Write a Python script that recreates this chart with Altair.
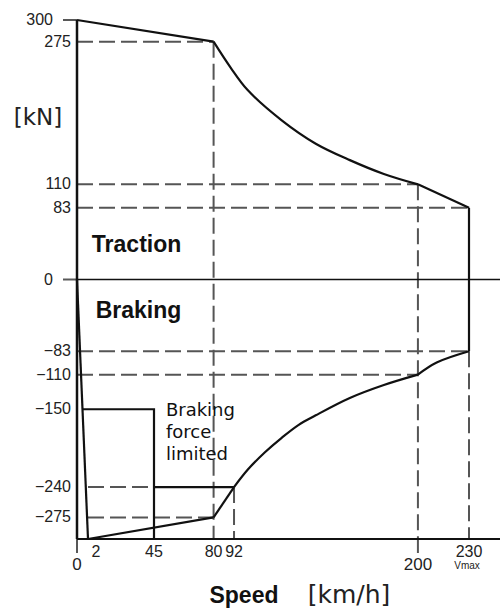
import altair as alt
import pandas as pd

# ---- data ----
# force envelope split into segments (traction on top, braking below)
env_speed = [0, 80,
             80, 90, 100, 120, 140, 160, 180, 200,
             200, 230,
             230, 230,
             230, 211, 200,
             200, 180, 160, 140, 130, 120, 110, 100, 92,
             92, 80,
             80, 2,
             2, 0]
env_force = [300, 275,
             275, 245, 219, 184, 157, 138, 122, 110,
             110, 83,
             83, -83,
             -83, -96, -110,
             -110, -122, -137, -157, -168, -183, -200, -220, -240,
             -240, -275,
             -275, -300,
             -300, 0]
env_seg = ["t1", "t1",
           "t2", "t2", "t2", "t2", "t2", "t2", "t2", "t2",
           "t3", "t3",
           "v", "v",
           "b1", "b1", "b1",
           "b2", "b2", "b2", "b2", "b2", "b2", "b2", "b2", "b2",
           "b3", "b3",
           "b4", "b4",
           "b5", "b5"]

# "braking force limited" polylines
lim_speed = [1, 45, 45, 45, 92]
lim_force = [-150, -150, -300, -240, -240]
lim_group = ["a", "a", "a", "b", "b"]

# dashed guide lines
hdash_force = [275, 110, 83, -83, -110, -240, -275]
hdash_from = [0, 0, 0, 0, 0, 2, 2]
hdash_to = [80, 200, 230, 230, 200, 45, 80]

vdash_speed = [80, 92, 200, 230]
vdash_from = [275, -240, 110, -83]
vdash_to = [-300, -300, -300, -300]

# axis extents and ticks
speed_min, speed_max = 0, 248.5
force_min, force_max = -300, 300
ytick_long = [300, 0]
xtick_long = [0, 200]

# tick labels
ytick_vals = [275, 110, 83, -83, -110, -150, -240, -275]
xtick_near = [45, 80, 92, 230]
xtick_two = [2]
xtick_far = [0, 200]

region_text = ["Traction", "Braking"]
region_speed = [4.5, 7]
region_force = [32, -44]

note_text = ["Braking\nforce\nlimited"]
note_speed = [52]
note_force = [-158]

W, H = 423, 519
BLACK = "#111111"
DASH = "#555555"
TXT = "#222222"

xscale = alt.Scale(type="linear", domain=[0, 2, 45, 230, 248.5],
                   range=[0, 11, 77, 392, 423], nice=False, zero=False)
yscale = alt.Scale(domain=[-300, 300], nice=False, zero=False)


def lab(v):
    return str(v).replace("-", "\u2212")


def xd(v):
    return alt.XDatum(v, type="quantitative", scale=xscale, axis=None)


def yd(v):
    return alt.YDatum(v, type="quantitative", scale=yscale, axis=None)


def xf(f):
    return alt.X(f, type="quantitative", scale=xscale, axis=None)


def yf(f):
    return alt.Y(f, type="quantitative", scale=yscale, axis=None)


env = pd.DataFrame({"speed": env_speed, "force": env_force, "seg": env_seg,
                    "i": list(range(len(env_speed)))})
lim = pd.DataFrame({"speed": lim_speed, "force": lim_force, "g": lim_group,
                    "i": list(range(len(lim_speed)))})
hd = pd.DataFrame({"force": hdash_force, "x0": hdash_from, "x1": hdash_to})
vd = pd.DataFrame({"speed": vdash_speed, "y0": vdash_from, "y1": vdash_to})
one = pd.DataFrame({"a": [0]})

hlines = alt.Chart(hd).mark_rule(color=DASH, strokeWidth=2, strokeDash=[16, 6]).encode(
    x=xf("x0"), x2="x1:Q", y=yf("force"))
vlines = alt.Chart(vd).mark_rule(color=DASH, strokeWidth=2, strokeDash=[16, 6]).encode(
    x=xf("speed"), y=yf("y0"), y2="y1:Q")

zero_line = alt.Chart(one).mark_rule(color=BLACK, strokeWidth=1.5).encode(
    x=xd(speed_min), x2=alt.X2Datum(speed_max), y=yd(0))
y_axis_line = alt.Chart(one).mark_rule(color=BLACK, strokeWidth=2.5).encode(
    x=xd(0), y=yd(force_min), y2=alt.Y2Datum(force_max))
x_axis_line = alt.Chart(one).mark_rule(color=BLACK, strokeWidth=2).encode(
    x=xd(speed_min), x2=alt.X2Datum(speed_max), y=yd(force_min))

yticks = alt.Chart(pd.DataFrame({"v": ytick_long})).mark_tick(
    orient="horizontal", size=14, thickness=2, xOffset=-7, color=BLACK).encode(
    x=xd(0), y=yf("v"))
xticks = alt.Chart(pd.DataFrame({"v": xtick_long})).mark_tick(
    orient="vertical", size=14, thickness=2, yOffset=7, color=BLACK).encode(
    x=xf("v"), y=yd(force_min))

envelope = alt.Chart(env).mark_line(color=BLACK, strokeWidth=2.2, strokeJoin="round",
                                    interpolate="catmull-rom").encode(
    x=xf("speed"), y=yf("force"), detail="seg:N", order="i:Q")

limited = alt.Chart(lim).mark_line(color=BLACK, strokeWidth=2.2).encode(
    x=xf("speed"), y=yf("force"), detail="g:N", order="i:Q")

tick_font = dict(font="Liberation Sans", fontSize=16, color=TXT)

ylab_long = alt.Chart(pd.DataFrame({"v": ytick_long, "t": [lab(v) for v in ytick_long]})).mark_text(
    align="right", baseline="middle", dx=-24, **tick_font).encode(
    x=xd(0), y=yf("v"), text="t:N")
ylab = alt.Chart(pd.DataFrame({"v": ytick_vals, "t": [lab(v) for v in ytick_vals]})).mark_text(
    align="right", baseline="middle", dx=-6, **tick_font).encode(
    x=xd(0), y=yf("v"), text="t:N")

xlab_near = alt.Chart(pd.DataFrame({"v": xtick_near, "t": [lab(v) for v in xtick_near]})).mark_text(
    align="center", baseline="top", dy=5, **tick_font).encode(
    x=xf("v"), y=yd(force_min), text="t:N")
xlab_two = alt.Chart(pd.DataFrame({"v": xtick_two, "t": [lab(v) for v in xtick_two]})).mark_text(
    align="center", baseline="top", dy=5, dx=8, **tick_font).encode(
    x=xf("v"), y=yd(force_min), text="t:N")
xlab_far = alt.Chart(pd.DataFrame({"v": xtick_far, "t": [lab(v) for v in xtick_far]})).mark_text(
    align="center", baseline="top", dy=18, fontSize=17, font="Liberation Sans",
    color=TXT).encode(
    x=xf("v"), y=yd(force_min), text="t:N")
vmax = alt.Chart(pd.DataFrame({"v": [230], "t": ["Vmax"]})).mark_text(
    align="center", baseline="top", dy=22, dx=-2, font="Liberation Sans", fontSize=10,
    color=TXT).encode(
    x=xf("v"), y=yd(force_min), text="t:N")

regions = alt.Chart(pd.DataFrame({"s": region_speed, "f": region_force, "t": region_text})).mark_text(
    align="left", baseline="alphabetic", font="Liberation Sans", fontSize=23,
    fontWeight="bold", color=BLACK).encode(
    x=xf("s"), y=yf("f"), text="t:N")

note = alt.Chart(pd.DataFrame({"s": note_speed, "f": note_force, "t": note_text})).mark_text(
    align="left", baseline="alphabetic", font="DejaVu Sans", fontSize=18, lineBreak="\n",
    lineHeight=22, color=BLACK).encode(
    x=xf("s"), y=yf("f"), text="t:N")

# axis titles
ytitle = alt.Chart(pd.DataFrame({"t": ["[kN]"]})).mark_text(
    align="center", baseline="middle", font="DejaVu Sans", fontSize=23, color=TXT).encode(
    x=alt.value(-39), y=alt.value(98), text="t:N")
xtitle = alt.Chart(pd.DataFrame({"t": ["Speed"]})).mark_text(
    align="center", baseline="alphabetic", font="Liberation Sans", fontSize=23,
    fontWeight="bold", color=BLACK).encode(
    x=alt.value(167), y=alt.value(583), text="t:N")
kmh = alt.Chart(pd.DataFrame({"t": ["[km/h]"]})).mark_text(
    align="center", baseline="alphabetic", font="DejaVu Sans", fontSize=25,
    color=TXT).encode(x=alt.value(272), y=alt.value(583), text="t:N")

chart = alt.layer(
    hlines, vlines, zero_line, y_axis_line, x_axis_line, yticks, xticks, envelope, limited,
    ylab_long, ylab, xlab_near, xlab_two, xlab_far, vmax, regions, note,
    ytitle, xtitle, kmh
).properties(
    width=W, height=H,
    padding={"left": 77, "top": 20, "right": 0, "bottom": 70},
    autosize=alt.AutoSizeParams(type="none"),
    background="white",
).configure_view(stroke=None)

chart.save("out.html", embed_options={"renderer": "svg", "actions": False})
